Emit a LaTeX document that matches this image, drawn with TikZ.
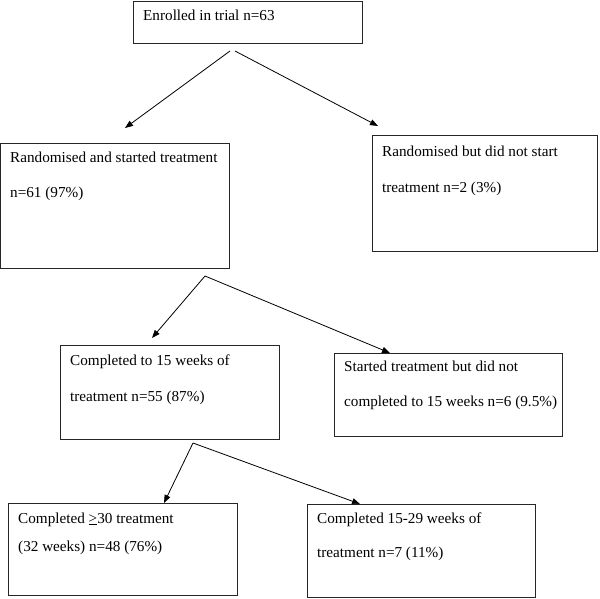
\documentclass[tikz,border=0pt]{standalone}
\usepackage{fontspec}
\setmainfont{Liberation Serif}
\usetikzlibrary{arrows.meta}
\begin{document}
\begin{tikzpicture}[x=1pt,y=-1pt,
  box/.style={draw=black!85,line width=0.9pt,fill=none,anchor=north west,inner sep=0pt,outer sep=0pt},
  txt/.style={anchor=base west,inner sep=0pt,font=\fontsize{15.2}{18}\selectfont},
  arr/.style={draw=black,line width=0.8pt,-{Triangle[length=8pt,width=6pt]}}]
\useasboundingbox (0,0) rectangle (600,598);
% boxes
\node[box,minimum width=229pt,minimum height=42pt] (b1) at (133,1) {};
\node[box,minimum width=229pt,minimum height=125pt] (b2) at (0.5,143) {};
\node[box,minimum width=225pt,minimum height=116pt] (b3) at (372,135) {};
\node[box,minimum width=219pt,minimum height=94pt] (b4) at (60,345) {};
\node[box,minimum width=228pt,minimum height=83pt] (b5) at (334,353) {};
\node[box,minimum width=229pt,minimum height=92pt] (b6) at (8,503) {};
\node[box,minimum width=228pt,minimum height=93pt] (b7) at (307,504) {};
% texts
\node[txt] (t1) at (143,20) {Enrolled in trial n=63};
\node[txt] (t2a) at (10,162) {Randomised and started treatment};
\node[txt] (t2b) at (10,197) {n=61 (97\%)};
\node[txt] (t3a) at (382,156) {Randomised but did not start};
\node[txt] (t3b) at (382,192) {treatment n=2 (3\%)};
\node[txt] (t4a) at (70,365) {Completed to 15 weeks of};
\node[txt] (t4b) at (70,401) {treatment n=55 (87\%)};
\node[txt] (t5a) at (344,371) {Started treatment but did not};
\node[txt] (t5b) at (344,406) {completed to 15 weeks n=6 (9.5\%)};
\node[txt] (t6a) at (18,523) {Completed \underline{>}30 treatment};
\node[txt] (t6b) at (18,551) {(32 weeks) n=48 (76\%)};
\node[txt] (t7a) at (317,523) {Completed 15-29 weeks of};
\node[txt] (t7b) at (317,557) {treatment n=7 (11\%)};
% connector points
\coordinate (s1a) at (230,51);
\coordinate (s1b) at (235,51);
\coordinate (e2) at (125,128);
\coordinate (e3) at (378,126);
\coordinate (s2) at (205,276);
\coordinate (e4) at (152,338);
\coordinate (e5) at (390,353);
\coordinate (s4) at (193,443);
\coordinate (e6) at (164,503);
\coordinate (e7) at (360,504);
\draw[arr] (s1a) -- (e2);
\draw[arr] (s1b) -- (e3);
\draw[arr] (s2) -- (e4);
\draw[arr] (s2) -- (e5);
\draw[arr] (s4) -- (e6);
\draw[arr] (s4) -- (e7);
\end{tikzpicture}
\end{document}
